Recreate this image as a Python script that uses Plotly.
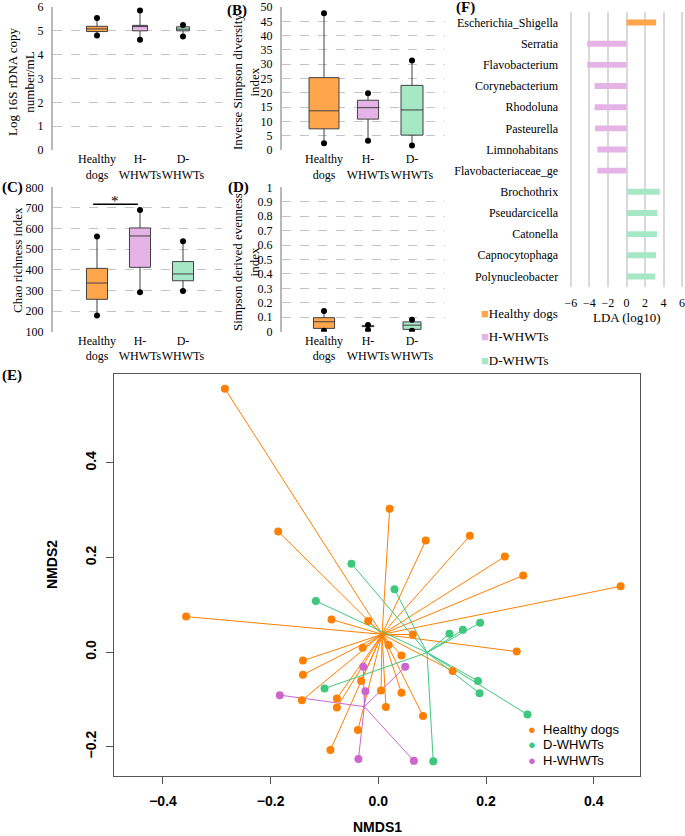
import numpy as np
import plotly.graph_objects as go

W, H = 685, 836
SERIF = "Liberation Serif"
SANS = "Liberation Sans"

groups = ["Healthy dogs", "H-WHWTs", "D-WHWTs"]
group_ticks = ["Healthy<br>dogs", "H-<br>WHWTs", "D-<br>WHWTs"]
fill_colors = ["#FFA64D", "#E6B3E6", "#A6E8C6"]

# (A) Log 16S rDNA copy number/mL
a_low = [4.80, 4.63, 4.76]
a_q1 = [4.97, 5.00, 5.00]
a_med = [5.08, 5.18, 5.07]
a_q3 = [5.19, 5.23, 5.17]
a_high = [5.54, 5.85, 5.24]

# (B) Inverse Simpson diversity index
b_low = [2.4, 3.2, 1.6]
b_q1 = [7.4, 10.8, 5.2]
b_med = [13.7, 14.8, 14.0]
b_q3 = [25.3, 17.4, 22.6]
b_high = [47.8, 19.8, 31.3]

# (C) Chao richness index
c_low = [179, 291, 297]
c_q1 = [257, 412, 347]
c_med = [336, 564, 380]
c_q3 = [407, 603, 440]
c_high = [561, 690, 538]
c_sig_pair = [0, 1]
c_sig_y = 718

# (D) Simpson derived evenness index
d_low = [0.007, 0.012, 0.006]
d_q1 = [0.023, 0.035, 0.016]
d_med = [0.069, 0.040, 0.045]
d_q3 = [0.097, 0.043, 0.068]
d_high = [0.143, 0.047, 0.083]

# (F) LEfSe LDA scores
f_genus = ["Escherichia_Shigella", "Serratia", "Flavobacterium", "Corynebacterium",
           "Rhodoluna", "Pasteurella", "Limnohabitans", "Flavobacteriaceae_ge",
           "Brochothrix", "Pseudarcicella", "Catonella", "Capnocytophaga", "Polynucleobacter"]
f_lda = [3.2, -4.25, -4.25, -3.45, -3.45, -3.4, -3.15, -3.15, 3.6, 3.35, 3.3, 3.2, 3.1]
f_group = ["Healthy dogs"] + ["H-WHWTs"] * 7 + ["D-WHWTs"] * 5
f_ticks = [-6, -4, -2, 0, 2, 4, 6]

# (E) NMDS ordination
e_groups = ["Healthy dogs", "D-WHWTs", "H-WHWTs"]
e_colors = ["#FF7F00", "#3DC87E", "#CC66CC"]
healthy_x = [-0.285, -0.186, 0.021, 0.088, 0.170, 0.235, 0.269, 0.450, 0.257, 0.138,
             0.083, 0.043, 0.043, 0.019, 0.064, 0.014, 0.005, -0.357, -0.087, -0.019,
             -0.029, -0.140, -0.140, -0.032, -0.142, -0.077, -0.077, -0.038, -0.089]
healthy_y = [0.557, 0.255, 0.303, 0.236, 0.246, 0.202, 0.162, 0.139, 0.001, -0.040,
             -0.135, -0.086, -0.007, 0.015, 0.037, -0.116, -0.081, 0.075, 0.069, 0.066,
             0.009, -0.018, -0.048, -0.061, -0.102, -0.098, -0.117, -0.165, -0.207]
dwhwt_x = [-0.050, 0.030, -0.116, -0.100, 0.132, 0.157, 0.189, 0.185, 0.188, 0.277, 0.102]
dwhwt_y = [0.187, 0.133, 0.108, -0.077, 0.039, 0.047, 0.062, -0.061, -0.087, -0.132, -0.231]
hwhwt_x = [-0.028, 0.050, -0.183, -0.024, -0.037, 0.066]
hwhwt_y = [-0.031, -0.031, -0.091, -0.083, -0.226, -0.230]
e_xticks = [-0.4, -0.2, 0.0, 0.2, 0.4]
e_yticks = [-0.2, 0.0, 0.2, 0.4]


def xdom(p0, p1):
    return [p0 / W, p1 / W]


def ydom(top, bottom):
    return [1 - bottom / H, 1 - top / H]


fig = go.Figure()

box_panels = [
    dict(n="", stats=(a_low, a_q1, a_med, a_q3, a_high), width=[0.49, 0.35, 0.30],
         xd=(53, 222), yd=(7, 150), xr=(-0.023, 3.907), yr=(0, 6), dtick=1),
    dict(n="2", stats=(b_low, b_q1, b_med, b_q3, b_high), width=[0.68, 0.48, 0.50],
         xd=(282, 445), yd=(7, 150), xr=(0.045, 3.75), yr=(0, 50), dtick=5),
    dict(n="3", stats=(c_low, c_q1, c_med, c_q3, c_high), width=[0.49, 0.49, 0.49],
         xd=(53, 222), yd=(187.3, 331.7), xr=(-0.023, 3.907), yr=(100, 800), dtick=100),
    dict(n="4", stats=(d_low, d_q1, d_med, d_q3, d_high), width=[0.48, 0.27, 0.41],
         xd=(282, 445), yd=(187.3, 331.7), xr=(0.045, 3.75), yr=(0, 1), dtick=0.1),
]

positions = [i + 1 for i in range(len(groups))]
layout_axes = {}
for p in box_panels:
    lo, q1, md, q3, hi = p["stats"]
    xa, ya = "x" + p["n"], "y" + p["n"]
    for i, g in enumerate(groups):
        fig.add_trace(go.Box(
            x=[positions[i]], q1=[q1[i]], median=[md[i]], q3=[q3[i]],
            lowerfence=[lo[i]], upperfence=[hi[i]], width=p["width"][i],
            fillcolor=fill_colors[i], line=dict(color="#404040", width=1),
            whiskerwidth=0, boxpoints=False, showlegend=False,
            xaxis=xa, yaxis=ya, hoverinfo="skip"))
        fig.add_trace(go.Scatter(
            x=[positions[i], positions[i]], y=[lo[i], hi[i]], mode="markers",
            marker=dict(color="black", size=6), showlegend=False,
            xaxis=xa, yaxis=ya, hoverinfo="skip"))
    layout_axes["xaxis" + p["n"]] = dict(
        domain=xdom(*p["xd"]), range=list(p["xr"]), anchor=ya, automargin=False,
        tickmode="array", tickvals=positions, ticktext=group_ticks, tickangle=0,
        showgrid=False, zeroline=False, showline=False, ticks="",
        tickfont=dict(family=SERIF, size=12, color="black"))
    layout_axes["yaxis" + p["n"]] = dict(
        domain=ydom(*p["yd"]), range=list(p["yr"]), anchor=xa, dtick=p["dtick"],
        automargin=False, ticklabeloverflow="allow",
        showgrid=True, gridcolor="#C4C4C4", griddash="dash", gridwidth=1,
        zeroline=False, showline=True, linecolor="#B8B8B8", linewidth=2,
        ticks="", ticklabelstandoff=5,
        tickfont=dict(family=SERIF, size=12, color="black"))

# significance bar in (C)
sx0 = positions[c_sig_pair[0]] - 0.09
sx1 = positions[c_sig_pair[1]] - 0.05
fig.add_shape(type="line", xref="x3", yref="y3", x0=sx0, x1=sx1, y0=c_sig_y, y1=c_sig_y,
              line=dict(color="black", width=1.5))
fig.add_annotation(xref="x3", yref="y3", x=(sx0 + sx1) / 2, y=c_sig_y + 15, text="*",
                   showarrow=False, font=dict(family=SERIF, size=15, color="black"),
                   yanchor="middle")

# (F) LDA bars
for g, col in zip(groups, fill_colors):
    idx = [i for i, fg in enumerate(f_group) if fg == g]
    fig.add_trace(go.Bar(
        y=[f_genus[i] for i in idx], x=[f_lda[i] for i in idx], orientation="h",
        marker=dict(color=col, line=dict(width=0)), width=0.28, showlegend=False,
        xaxis="x5", yaxis="y5", hoverinfo="skip"))

layout_axes["xaxis5"] = dict(
    domain=xdom(568.2, 684.8), range=[-6.3, 6.3], anchor="y5", automargin=False,
    ticklabeloverflow="allow",
    tickvals=f_ticks, showgrid=True, gridcolor="#D9D9D9", gridwidth=1.5,
    zeroline=False, showline=False, ticks="", ticklabelstandoff=7,
    tickfont=dict(family=SERIF, size=12, color="black"))
layout_axes["yaxis5"] = dict(
    domain=ydom(12, 287), anchor="x5", type="category", automargin=False,
    categoryorder="array", categoryarray=f_genus, range=[12.5, -0.5],
    showgrid=False, zeroline=False, showline=False, ticks="", ticklabelstandoff=9,
    tickfont=dict(family=SERIF, size=12, color="black"))

# (E) NMDS spider plot
e_data = [(healthy_x, healthy_y), (dwhwt_x, dwhwt_y), (hwhwt_x, hwhwt_y)]
for g, col, (xs, ys) in zip(e_groups, e_colors, e_data):
    cx, cy = float(np.mean(xs)), float(np.mean(ys))
    lx, ly = [], []
    for x, y in zip(xs, ys):
        lx += [cx, x, None]
        ly += [cy, y, None]
    fig.add_trace(go.Scatter(x=lx, y=ly, mode="lines", line=dict(color=col, width=1),
                             showlegend=False, xaxis="x6", yaxis="y6", hoverinfo="skip"))
for g, col, (xs, ys) in zip(e_groups, e_colors, e_data):
    fig.add_trace(go.Scatter(x=xs, y=ys, mode="markers", name=g,
                             marker=dict(color=col, size=8), showlegend=False,
                             xaxis="x6", yaxis="y6"))

layout_axes["xaxis6"] = dict(
    domain=xdom(114, 640), range=[-0.491, 0.486], anchor="y6", automargin=False,
    tickvals=e_xticks, tickformat=".1f", showgrid=False, zeroline=False,
    showline=True, mirror=True, linecolor="#555555", linewidth=1,
    ticks="outside", ticklen=7, tickcolor="#555555", ticklabelstandoff=5,
    tickfont=dict(family=SANS, size=14, color="black", weight="bold"))
layout_axes["yaxis6"] = dict(
    domain=ydom(374, 776), range=[-0.262, 0.588], anchor="x6", automargin=False,
    tickvals=e_yticks, tickformat=".1f", tickangle=-90, showgrid=False, zeroline=False,
    showline=True, mirror=True, linecolor="#555555", linewidth=1,
    ticks="outside", ticklen=7, tickcolor="#555555", ticklabelstandoff=4,
    tickfont=dict(family=SANS, size=14, color="black", weight="bold"))

ann = []


def text_ann(x, y, text, size, family=SERIF, bold=False, angle=0, xanchor="center"):
    ann.append(dict(xref="paper", yref="paper", x=x / W, y=1 - y / H, text=text,
                    showarrow=False, textangle=angle, xanchor=xanchor, yanchor="middle",
                    font=dict(family=family, size=size, color="black",
                              weight="bold" if bold else "normal")))


# panel letters
text_ann(0, 10, "(A)", 15, bold=True, xanchor="left")
text_ann(225, 10, "(B)", 15, bold=True, xanchor="left")
text_ann(0, 188, "(C)", 15, bold=True, xanchor="left")
text_ann(226, 188, "(D)", 15, bold=True, xanchor="left")
text_ann(454, 7, "(F)", 15, bold=True, xanchor="left")
text_ann(0, 375, "(E)", 15, bold=True, xanchor="left")

# y titles
text_ann(21, 82, "Log 16S rDNA copy<br>number/mL", 13, angle=-90)
text_ann(246, 82, "Inverse Simpson diversity<br>index", 13, angle=-90)
text_ann(18, 260, "Chao richness index", 13, angle=-90)
text_ann(246, 262, "Simpson derived evenness<br>index", 13, angle=-90)

# F axis title and legend
text_ann(627, 318, "LDA (log10)", 13)
for k, (g, col) in enumerate(zip(groups, fill_colors)):
    text_ann(479, 313 + 23.5 * k,
             f"<span style='color:{col}'>■</span>{g}", 13, xanchor="left")

# E legend
for k, (g, col) in enumerate(zip(e_groups, e_colors)):
    text_ann(526, 729 + 15.7 * k,
             f"<span style='color:{col}'>●</span>  {g}", 13, family=SANS, xanchor="left")

# E axis titles
text_ann(377, 827, "NMDS1", 14, family=SANS, bold=True)
text_ann(52, 565, "NMDS2", 14, family=SANS, bold=True, angle=-90)

fig.update_layout(
    width=W, height=H, margin=dict(l=0, r=0, t=0, b=0, autoexpand=False),
    paper_bgcolor="white", plot_bgcolor="rgba(0,0,0,0)",
    boxmode="overlay", barmode="overlay", showlegend=False,
    annotations=ann,
    **layout_axes,
)

fig.write_html("out.html", config={"displayModeBar": False},
               post_script="document.body.style.margin='0px';")
